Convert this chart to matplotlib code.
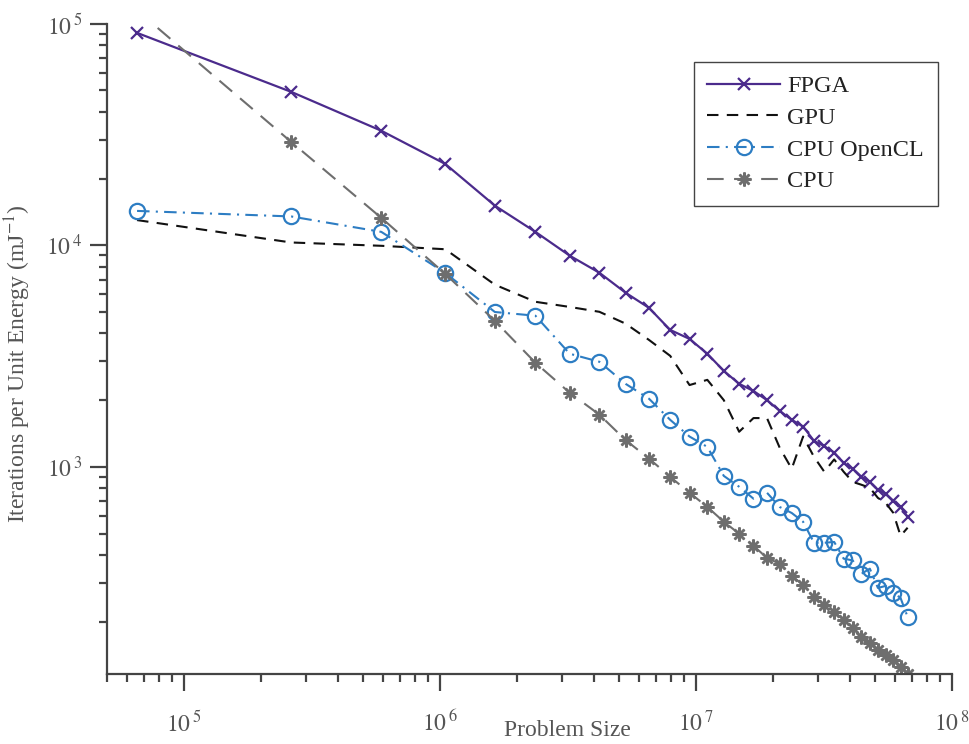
import math
import matplotlib.pyplot as plt
from matplotlib.ticker import LogLocator, FuncFormatter, NullFormatter

plt.rcParams['font.family'] = ['Liberation Serif', 'DejaVu Serif']
plt.rcParams['mathtext.fontset'] = 'stix'

# problem sizes: square grids of side 256 .. 8192
grid_side = [256, 512, 768, 1024, 1280, 1536, 1792, 2048, 2304, 2560, 2816, 3072,
             3328, 3584, 3840, 4096, 4352, 4608, 4864, 5120, 5376, 5632, 5888, 6144,
             6400, 6656, 6912, 7168, 7424, 7680, 7936, 8192]
problem_size = [n * n for n in grid_side]

fpga = [91000, 49300, 32900, 23300, 15100, 11500, 8980, 7520, 6110, 5220, 4150, 3780,
        3240, 2710, 2370, 2200, 2000, 1790, 1630, 1520, 1310, 1240, 1160, 1040,
        980, 902, 855, 787, 755, 702, 659, 594]
gpu = [13000, 10300, 9950, 9600, 6640, 5560, 5270, 5010, 4430, 3740, 3170, 2340,
       2470, 2000, 1440, 1660, 1660, 1220, 980, 1370, 1110, 950, 1080, 950,
       855, 830, 804, 724, 687, 620, 488, 531]
cpu_ocl = [14300, 13500, 11500, 7500, 5000, 4810, 3240, 2980, 2370, 2030, 1630, 1370,
           1230, 910, 813, 718, 764, 659, 619, 565, 454, 454, 458, 385,
           378, 329, 347, 284, 290, 270, 256, 210]
cpu = [115000, 29300, 13300, 7430, 4560, 2950, 2160, 1720, 1320, 1090, 901, 764,
       659, 565, 499, 440, 388, 365, 322, 293, 259, 238, 221, 204,
       187, 171, 160, 149, 142, 134, 125, 116]

fig = plt.figure(figsize=(9.69, 7.44), dpi=100)
ax = fig.add_axes([0.1104, 0.094, 0.872, 0.874])

ax.plot(problem_size, fpga, color='#4b2b8c', lw=1.6, marker='x', ms=8, mew=1.6,
        label='FPGA')
ax.plot(problem_size, gpu, color='#111111', lw=1.5, dashes=(5.5, 4.0), label='GPU')
ax.plot(problem_size, cpu_ocl, color='#2d7dc3', lw=1.5, dashes=(6, 3, 1, 3),
        marker='o', ms=11, mfc='none', mew=1.6, label='CPU OpenCL')
ax.plot(problem_size, cpu, color='#6e6e6e', lw=1.5, dashes=(8, 5),
        marker=(8, 2, 0), ms=10, mew=1.8, label='CPU')

ax.set_xscale('log')
ax.set_yscale('log')
ax.set_xlim(5e4, 1e8)
ax.set_ylim(116, 1e5)

for s in ['top', 'right']:
    ax.spines[s].set_visible(False)
for s in ['left', 'bottom']:
    ax.spines[s].set_color('#444444')
    ax.spines[s].set_linewidth(1.6)

ax.xaxis.set_major_locator(LogLocator(base=10, numticks=10))
ax.yaxis.set_major_locator(LogLocator(base=10, numticks=10))
ax.xaxis.set_minor_locator(LogLocator(base=10, subs=range(2, 10), numticks=20))
ax.yaxis.set_minor_locator(LogLocator(base=10, subs=range(2, 10), numticks=20))
ax.xaxis.set_minor_formatter(NullFormatter())
ax.yaxis.set_minor_formatter(NullFormatter())

pow_fmt = FuncFormatter(lambda v, p: r'$10^{\,%d}$' % round(math.log10(v)))
ax.xaxis.set_major_formatter(pow_fmt)
ax.yaxis.set_major_formatter(pow_fmt)

ax.tick_params(which='major', direction='out', length=12, width=1.6,
               color='#444444', labelsize=17, labelcolor='#555555')
ax.tick_params(which='minor', direction='out', length=6, width=1.6, color='#444444')
ax.tick_params(axis='x', which='major', pad=14)
ax.tick_params(axis='y', which='major', pad=6)

ax.set_xlabel('Problem Size', fontsize=17, color='#555555')
ax.xaxis.set_label_coords(0.545, -0.071)
ax.set_ylabel(r'Iterations per Unit Energy (mJ$^{-1}$)', fontsize=17, color='#555555')
ax.yaxis.set_label_coords(-0.087, 0.478)

leg = ax.legend(loc='upper right', bbox_to_anchor=(0.983, 0.9415), fontsize=17.5,
                handlelength=3.0, handletextpad=0.3, labelspacing=0.4,
                borderpad=0.55, borderaxespad=0,
                fancybox=False, framealpha=1, edgecolor='#444444')
leg.get_frame().set_linewidth(1.0)
for t in leg.get_texts():
    t.set_color('#222222')

fig.savefig('out.png', dpi=100)
